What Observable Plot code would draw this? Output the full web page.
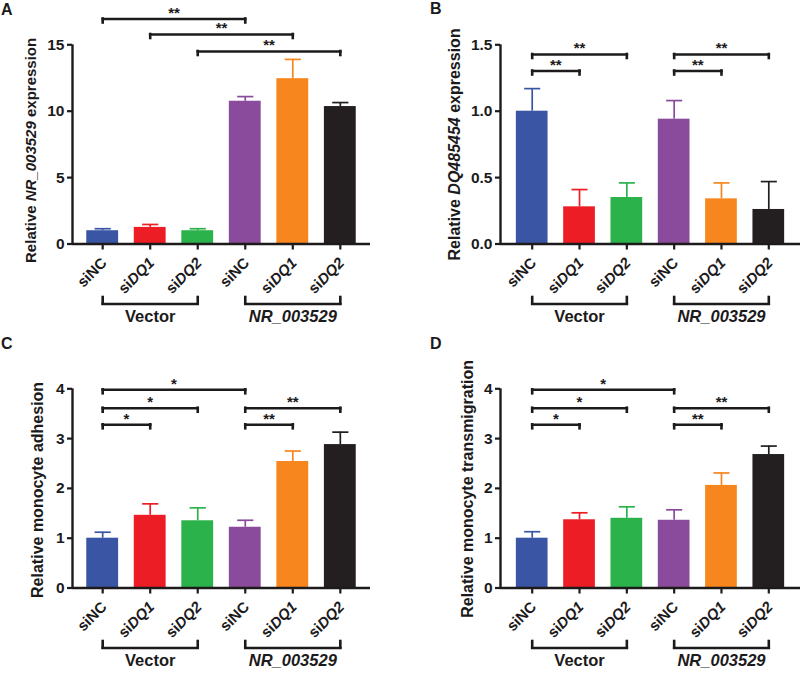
<!DOCTYPE html>
<html>
<head>
<meta charset="utf-8">
<script src="https://cdn.jsdelivr.net/npm/d3@7"></script>
<script src="https://cdn.jsdelivr.net/npm/@observablehq/plot@0.6"></script>
<style>
  html, body { margin: 0; padding: 0; background: #fff; }
  #wrap { position: relative; width: 800px; height: 673px; overflow: hidden;
          font-family: "Liberation Sans", Arial, sans-serif; color: #1c1a1b; }
  .panel { position: absolute; }
  .letter { position: absolute; font-weight: bold; font-size: 16px; line-height: 16px; }
</style>
</head>
<body>
<div id="wrap"></div>
<script>
// ---------- data ----------
const xIndex = [0, 1, 2, 3, 4, 5];
const tickLabels = ["siNC", "siDQ1", "siDQ2", "siNC", "siDQ1", "siDQ2"];
const barColors = ["#3a55a4", "#ec1d25", "#2cb24a", "#8a4b9d", "#f7861e", "#231f20"];
const groupLabels = ["Vector", "NR_003529"];
const groupStart = [0, 3];
const groupEnd = [2, 5];

const valuesA = [1.00, 1.25, 1.00, 10.75, 12.45, 10.35];
const errorsA = [0.15, 0.22, 0.15, 0.35, 1.45, 0.30];
const valuesB = [1.00, 0.28, 0.35, 0.94, 0.34, 0.26];
const errorsB = [0.17, 0.13, 0.11, 0.14, 0.12, 0.21];
const valuesC = [1.00, 1.46, 1.35, 1.22, 2.54, 2.88];
const errorsC = [0.12, 0.23, 0.26, 0.14, 0.21, 0.25];
const valuesD = [1.00, 1.37, 1.40, 1.36, 2.06, 2.68];
const errorsD = [0.13, 0.14, 0.23, 0.21, 0.25, 0.17];

const ticksA = [0, 5, 10, 15];
const ticksB = [0, 0.5, 1.0, 1.5];
const ticksC = [0, 1, 2, 3, 4];
const ticksD = [0, 1, 2, 3, 4];

const titleA = "Relative NR_003529 expression";
const titleB = "Relative DQ485454 expression";
const titleC = "Relative monocyte adhesion";
const titleD = "Relative monocyte transmigration";

const sigA = [
  {from: 0, to: 3, label: "**", tier: 0},
  {from: 1, to: 4, label: "**", tier: 1},
  {from: 2, to: 5, label: "**", tier: 2}
];
const sigB = [
  {from: 0, to: 2, label: "**", tier: 0},
  {from: 0, to: 1, label: "**", tier: 1},
  {from: 3, to: 5, label: "**", tier: 0},
  {from: 3, to: 4, label: "**", tier: 1}
];
const sigC = [
  {from: 0, to: 3, label: "*", tier: 0},
  {from: 0, to: 2, label: "*", tier: 1},
  {from: 0, to: 1, label: "*", tier: 2},
  {from: 3, to: 5, label: "**", tier: 1},
  {from: 3, to: 4, label: "**", tier: 2}
];
const sigD = [
  {from: 0, to: 3, label: "*", tier: 0},
  {from: 0, to: 2, label: "*", tier: 1},
  {from: 0, to: 1, label: "*", tier: 2},
  {from: 3, to: 5, label: "**", tier: 1},
  {from: 3, to: 4, label: "**", tier: 2}
];

// ---------- drawing ----------
const ITALIC = /(NR_003529|DQ485454|DQ\d)/;
function italicize(svg) {
  d3.select(svg).selectAll("text").each(function () {
    const t = this.textContent;
    if (!ITALIC.test(t) || this.querySelector("tspan")) return;
    const parts = t.split(ITALIC).filter(s => s !== "");
    const sel = d3.select(this);
    sel.text(null);
    parts.forEach(p => {
      const ts = sel.append("tspan").text(p);
      if (ITALIC.test(p)) ts.attr("font-style", "italic");
    });
  });
}

function makePanel(cfg) {
  const {values, errors, ymax, yTicks, yFormat, title, titleSize, titleDx, titleDy,
         sig, tiers, height, ml, mr, xPad} = cfg;
  const Y0 = 243.5, YT = 44.3;
  const py = p => ymax * (Y0 - p) / (Y0 - YT);   // pixel row -> data value
  const rows = xIndex.map(i => ({i, v: values[i], top: values[i] + errors[i],
                                 color: barColors[i], label: tickLabels[i]}));
  const half = 0.335, capHalf = 0.17;
  const xDom = [-xPad, 5 + xPad];
  const groups = groupLabels.map((g, k) => ({g, a: groupStart[k], b: groupEnd[k]}));
  const groupEnds = groups.flatMap(d => [d.a, d.b]);
  const tips = sig.flatMap(s => [{x: s.from, tier: s.tier}, {x: s.to, tier: s.tier}]);
  const ink = "#1c1a1b";
  const svg = Plot.plot({
    width: 400, height,
    marginLeft: ml, marginRight: mr, marginTop: YT, marginBottom: height - Y0,
    x: {domain: xDom, axis: null},
    y: {domain: [0, ymax], axis: null},
    style: {fontFamily: "'Liberation Sans', Arial, sans-serif", fontSize: "14px",
            fontWeight: "bold", color: ink, background: "white", overflow: "visible"},
    marks: [
      Plot.rectY(rows, {x1: d => d.i - half, x2: d => d.i + half, y1: 0, y2: "v", fill: "color"}),
      Plot.ruleX(rows, {x: "i", y1: "v", y2: "top", stroke: "color", strokeWidth: 1.7}),
      Plot.link(rows, {x1: d => d.i - capHalf, x2: d => d.i + capHalf, y1: "top", y2: "top",
                       stroke: "color", strokeWidth: 1.7}),
      Plot.ruleY([0], {stroke: ink, strokeWidth: 2.4}),
      Plot.ruleX([xDom[0]], {y1: 0, y2: ymax, stroke: ink, strokeWidth: 2.4}),
      Plot.axisY({ticks: yTicks, tickFormat: yFormat, tickSize: 5, tickPadding: 3,
                  stroke: ink, strokeWidth: 2.2, fontSize: 15.5, fontWeight: "bold", label: null}),
      Plot.ruleX(xIndex, {x: d => d, y1: 0, y2: py(Y0 + 6), stroke: ink, strokeWidth: 2.2}),
      Plot.text(rows, {x: "i", y: 0, text: "label", rotate: -45, textAnchor: "end",
                       dx: 1.5, dy: 16.5, fontSize: 15, fontWeight: "bold", fill: ink}),
      // group brackets
      Plot.link(groups, {x1: "a", x2: "b", y1: py(303.5), y2: py(303.5), stroke: ink,
                         strokeWidth: 2.6, strokeLinecap: "square"}),
      Plot.ruleX(groupEnds, {x: d => d, y1: py(303.5), y2: py(297), stroke: ink,
                             strokeWidth: 2.6, strokeLinecap: "square"}),
      Plot.text(groups, {x: d => (d.a + d.b) / 2, y: py(316.5), text: "g",
                         fontSize: 16.5, fontWeight: "bold", fill: ink,
                         fontStyle: d => d.g === "Vector" ? "normal" : "italic"}),
      // significance brackets
      Plot.link(sig, {x1: "from", x2: "to", y1: d => py(tiers[d.tier]), y2: d => py(tiers[d.tier]),
                      stroke: ink, strokeWidth: 2.6, strokeLinecap: "square"}),
      Plot.ruleX(tips, {x: "x", y1: d => py(tiers[d.tier]), y2: d => py(tiers[d.tier] + 4),
                        stroke: ink, strokeWidth: 2.6, strokeLinecap: "square"}),
      Plot.text(sig, {x: d => (d.from + d.to) / 2, y: d => py(tiers[d.tier] - 6), text: "label",
                      fontSize: 15, fontWeight: "bold", fill: ink}),
      // y-axis title
      Plot.text([title], {x: xDom[0], y: ymax / 2, text: d => d, rotate: -90,
                          dx: titleDx, dy: titleDy, fontSize: titleSize, fontWeight: "bold", fill: ink})
    ]
  });
  italicize(svg);
  return svg;
}

const panels = [
  {left: 0, top: 0, letter: "A", lx: 1, ly: 2,
   cfg: {values: valuesA, errors: errorsA, ymax: 15, yTicks: ticksA, yFormat: d3.format("d"),
         title: titleA, titleSize: 15, titleDx: -41, titleDy: 6,
         sig: sigA, tiers: [18.5, 34, 51], height: 344, ml: 72, mr: 30, xPad: 0.635}},
  {left: 400, top: 0, letter: "B", lx: 430, ly: 1,
   cfg: {values: valuesB, errors: errorsB, ymax: 1.5, yTicks: ticksB, yFormat: d => d.toFixed(1),
         title: titleB, titleSize: 16, titleDx: -45.5, titleDy: 0,
         sig: sigB, tiers: [54, 70.5], height: 344, ml: 100, mr: 0, xPad: 0.67}},
  {left: 0, top: 344, letter: "C", lx: 1, ly: 336,
   cfg: {values: valuesC, errors: errorsC, ymax: 4, yTicks: ticksC, yFormat: d3.format("d"),
         title: titleC, titleSize: 16, titleDx: -34.5, titleDy: 1.5,
         sig: sigC, tiers: [45.3, 63.7, 80.3], height: 329, ml: 72, mr: 30, xPad: 0.635}},
  {left: 400, top: 344, letter: "D", lx: 430, ly: 336,
   cfg: {values: valuesD, errors: errorsD, ymax: 4, yTicks: ticksD, yFormat: d3.format("d"),
         title: titleD, titleSize: 16, titleDx: -32.5, titleDy: 0.5,
         sig: sigD, tiers: [45.3, 63.7, 80.3], height: 329, ml: 100, mr: 0, xPad: 0.67}}
];

const wrap = document.getElementById("wrap");
panels.forEach(p => {
  const div = document.createElement("div");
  div.className = "panel";
  div.style.left = p.left + "px";
  div.style.top = p.top + "px";
  div.appendChild(makePanel(p.cfg));
  wrap.appendChild(div);
});
panels.forEach(p => {
  const l = document.createElement("div");
  l.className = "letter";
  l.style.left = p.lx + "px";
  l.style.top = p.ly + "px";
  l.textContent = p.letter;
  wrap.appendChild(l);
});
</script>
</body>
</html>
